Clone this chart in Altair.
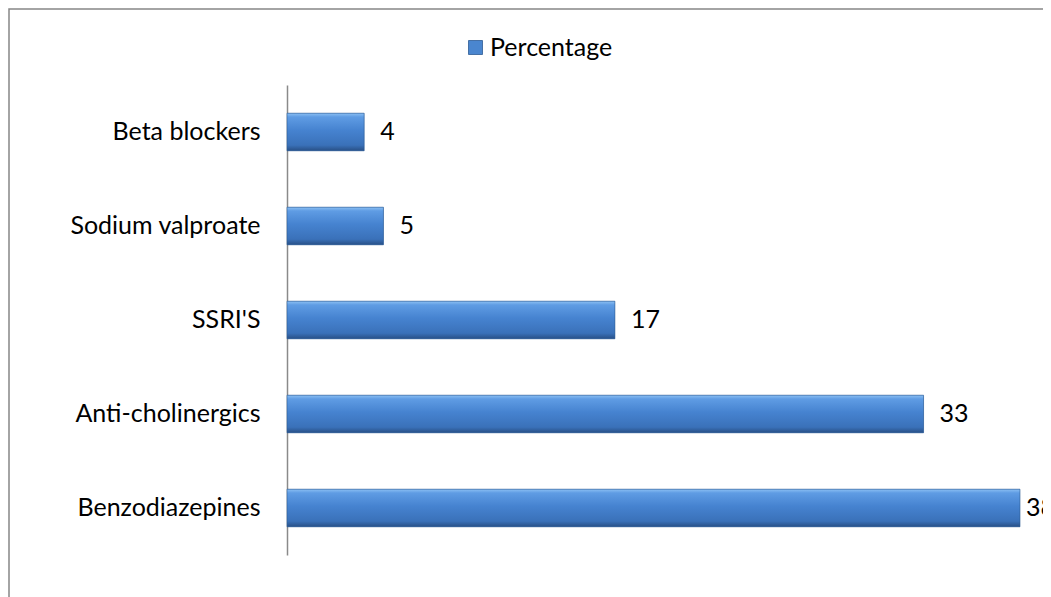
import altair as alt
import pandas as pd

categories = ["Beta blockers", "Sodium valproate", "SSRI'S", "Anti-cholinergics", "Benzodiazepines"]
values = [4, 5, 17, 33, 38]
series_name = "Percentage"

df = pd.DataFrame({"drug": categories, "value": values, "series": [series_name] * len(values)})

FONT = "Lato"
FS = 25
W, H = 733, 470

y_enc = alt.Y("drug:N", sort=categories, title=None,
              scale=alt.Scale(paddingInner=0.6, paddingOuter=0.3),
              axis=alt.Axis(ticks=False, domainColor="#8a8a8a", domainWidth=1.5,
                            labelFontSize=FS, labelFont=FONT, labelColor="#000000",
                            labelPadding=27, labelLimit=400))
x_enc = alt.X("value:Q", scale=alt.Scale(domain=[0, 38], nice=False, zero=True), axis=None)

base = alt.Chart(df)

legend_bars = base.mark_bar().encode(
    x=x_enc, y=y_enc,
    color=alt.Color("series:N", scale=alt.Scale(range=["#4a86cf"]),
                    legend=alt.Legend(title=None, orient="none", legendX=176, legendY=-50,
                                      symbolType="square", symbolSize=196, symbolStrokeWidth=0.8,
                                      symbolStrokeColor="#2c5a94",
                                      labelFontSize=FS, labelFont=FONT, labelColor="#000000",
                                      labelOffset=2, padding=0)),
)

grad = alt.Gradient(
    gradient="linear", x1=0, y1=0, x2=0, y2=1,
    stops=[
        alt.GradientStop(offset=0, color="#8cc0f3"),
        alt.GradientStop(offset=0.1, color="#5f9ce4"),
        alt.GradientStop(offset=0.45, color="#4683d0"),
        alt.GradientStop(offset=0.85, color="#3a71b9"),
        alt.GradientStop(offset=1, color="#284f85"),
    ],
)

bars = base.mark_bar(fill=grad, stroke="#2d5a92", strokeWidth=0.6).encode(x=x_enc, y=y_enc)

# Excel pulls the label of the longest bar closer so it stays inside the chart area
labels_main = base.transform_joinaggregate(vmax="max(value)").transform_filter(
    "datum.value < datum.vmax"
).mark_text(align="left", baseline="middle", dx=16, fontSize=FS, font=FONT,
            color="#000000").encode(x=x_enc, y=y_enc, text="value:Q")
labels_max = base.transform_joinaggregate(vmax="max(value)").transform_filter(
    "datum.value == datum.vmax"
).mark_text(align="left", baseline="middle", dx=6, fontSize=FS, font=FONT,
            color="#000000").encode(x=x_enc, y=y_enc, text="value:Q")

border = alt.Chart(pd.DataFrame({"a": [0]})).mark_rect(
    fill=None, stroke="#868686", strokeWidth=1.5
).encode(x=alt.value(-278), x2=alt.value(W + 200), y=alt.value(-76), y2=alt.value(H + 200))

chart = alt.layer(border, legend_bars, bars, labels_main, labels_max).properties(
    width=W, height=H,
    autosize=alt.AutoSizeParams(type="none"),
    padding={"left": 279, "top": 77, "right": 23, "bottom": 42},
    background="#ffffff",
).configure_view(stroke=None)

chart.save("out.html", embed_options={"renderer": "svg", "actions": False})
